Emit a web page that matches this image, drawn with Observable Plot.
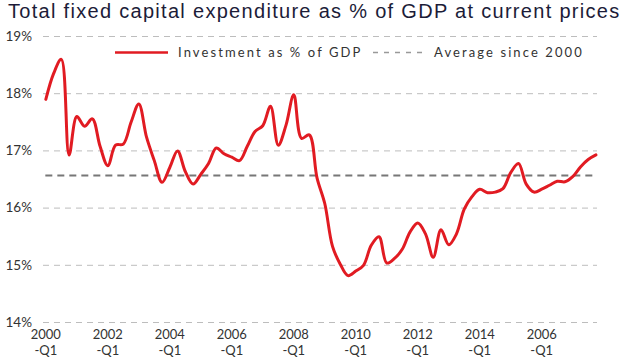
<!DOCTYPE html>
<html><head><meta charset="utf-8">
<script src="https://cdn.jsdelivr.net/npm/d3@7"></script>
<script src="https://cdn.jsdelivr.net/npm/@observablehq/plot@0.6"></script>
<style>
body{margin:0;background:#fff;}
#wrap{position:relative;width:634px;height:357px;overflow:hidden;background:#fff;}
#title{position:absolute;left:8px;top:-1px;height:26px;line-height:24px;font-family:"Liberation Sans",Arial,sans-serif;font-size:20px;letter-spacing:1.3px;color:#1c1c38;white-space:nowrap;}
#chart{position:absolute;left:0;top:28px;}
#legend{position:absolute;left:0;top:0;width:634px;height:357px;pointer-events:none;font-family:Lato,sans-serif;font-size:13px;letter-spacing:2.1px;color:#333;}
#legend .it{position:absolute;top:44px;white-space:nowrap;line-height:16px;}
</style></head>
<body>
<div id="wrap">
  <div id="title">Total fixed capital expenditure as % of GDP at current prices</div>
  <div id="chart"></div>
  <div id="legend">
    <svg class="it" style="left:115px;top:51px" width="53" height="3"><line x1="0" x2="53" y1="1.5" y2="1.5" stroke="#e11b22" stroke-width="2.5"/></svg>
    <div class="it" id="lg1" style="left:178px"></div>
    <svg class="it" style="left:373px;top:51px" width="54" height="3"><line x1="0" x2="54" y1="1.5" y2="1.5" stroke="#999" stroke-width="1.5" stroke-dasharray="5,6"/></svg>
    <div class="it" id="lg2" style="left:434px"></div>
  </div>
</div>
<script>
// Quarterly investment as % of GDP, 2000-Q1 .. 2017-Q4
const investment = [
  17.90, 18.35, 18.60, 16.93, 17.60, 17.43, 17.56, 17.08,
  16.74, 17.10, 17.12, 17.50, 17.82, 17.24, 16.83, 16.45,
  16.71, 17.00, 16.64, 16.42, 16.59, 16.78, 17.05, 16.95,
  16.89, 16.83, 17.08, 17.34, 17.44, 17.78, 17.10, 17.45,
  17.98, 17.22, 17.28, 16.53, 16.08, 15.33, 15.02, 14.82,
  14.90, 15.00, 15.35, 15.50, 15.04, 15.12, 15.28, 15.58,
  15.74, 15.55, 15.14, 15.62, 15.36, 15.55, 15.98, 16.20,
  16.33, 16.27, 16.28, 16.34, 16.62, 16.78, 16.42, 16.28,
  16.33, 16.40, 16.47, 16.46, 16.55, 16.72, 16.85, 16.93
];
const averageSince2000 = 16.57;
const seriesNames = ["Investment as % of GDP", "Average since 2000"];
const yTicks = [14, 15, 16, 17, 18, 19];
const xTickYears = ["2000", "2002", "2004", "2006", "2008", "2010", "2012", "2014", "2006"];
const xTickSuffix = "-Q1";

document.getElementById("lg1").textContent = seriesNames[0];
document.getElementById("lg2").textContent = seriesNames[1];

const data = investment.map((v, i) => ({q: i, v}));
const xTickPos = xTickYears.map((_, k) => k * 8);
const xTickLabel = new Map(xTickPos.map((p, k) => [p, xTickYears[k] + "\n" + xTickSuffix]));

const plot = Plot.plot({
  width: 634,
  height: 329,
  marginLeft: 43,
  marginRight: 37,
  marginTop: 8,
  marginBottom: 35,
  style: {fontFamily: "Lato, sans-serif", fontSize: "13px", color: "#333", background: "#fff"},
  x: {domain: [-0.3, 71.2], label: null},
  y: {domain: [14, 19], label: null},
  marks: [
    Plot.ruleY(yTicks, {stroke: "#bdbdbd", strokeWidth: 1, strokeDasharray: "6,5"}),
    Plot.ruleY([averageSince2000], {x1: 0, x2: investment.length - 1, stroke: "#777", strokeWidth: 2, strokeDasharray: "7,5"}),
    Plot.line(data, {x: "q", y: "v", stroke: "#e11b22", strokeWidth: 3, curve: "catmull-rom"}),
    Plot.axisY(yTicks, {label: null, tickSize: 0, tickPadding: 0, textAnchor: "start", dx: -38, tickFormat: d => d + "%", fill: "#333", fontSize: 13.5, style: {letterSpacing: "2.5px"}}),
    Plot.axisX(xTickPos, {label: null, tickSize: 0, tickPadding: 4, tickFormat: d => xTickLabel.get(d), lineHeight: 1.3, fill: "#333", style: {letterSpacing: "1.2px"}})
  ]
});
document.getElementById("chart").appendChild(plot);
</script>
</body></html>
